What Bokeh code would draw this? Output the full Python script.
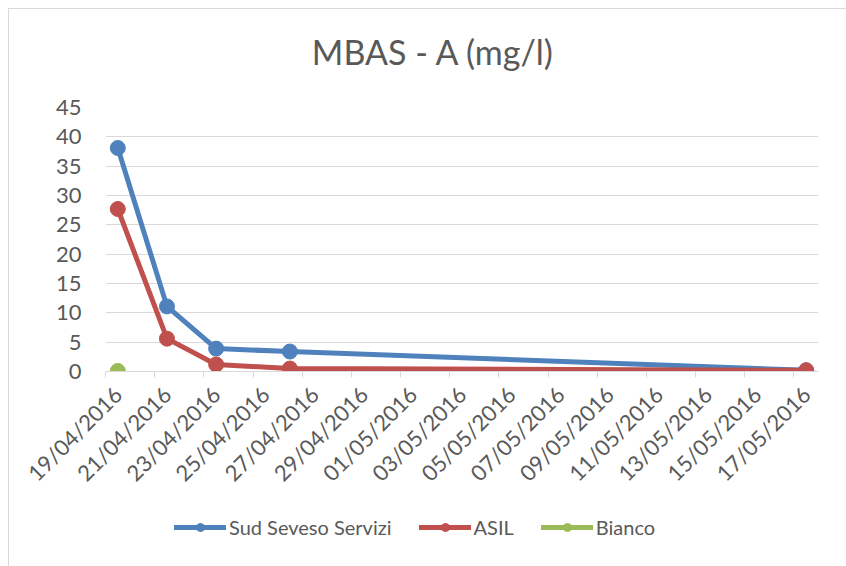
import pandas as pd
from math import pi
from bokeh.plotting import figure
from bokeh.layouts import column
from bokeh.models import (Range1d, FixedTicker, DatetimeTickFormatter, Legend,
                          LegendItem, Label)
from bokeh.embed import file_html
from bokeh.resources import INLINE

# ---- data ----
title_text = "MBAS - A (mg/l)"
axis_first_day = "2016-04-19"
axis_last_day = "2016-05-17"
tick_step_days = 2

sud_dates = ["2016-04-19", "2016-04-21", "2016-04-23", "2016-04-26", "2016-05-17"]
sud_values = [38.1, 11.1, 3.9, 3.4, 0.2]

asil_dates = ["2016-04-19", "2016-04-21", "2016-04-23", "2016-04-26", "2016-05-17"]
asil_values = [27.7, 5.6, 1.2, 0.5, 0.2]

bianco_dates = ["2016-04-19"]
bianco_values = [0.1]

y_ticks = [0, 5, 10, 15, 20, 25, 30, 35, 40, 45]

series_names = ["Sud Seveso Servizi", "ASIL", "Bianco"]
series_colors = ["#4f81bd", "#c0504d", "#9bbb59"]

# ---- styling ----
FONT = "Lato"
TEXT = "#595959"
GRID = "#d9d9d9"

HALF_DAY = pd.Timedelta(hours=12)
first = pd.Timestamp(axis_first_day)
last = pd.Timestamp(axis_last_day)

label_days = pd.date_range(first, last, freq=f"{tick_step_days}D")
to_ms = lambda ts: ts.value / 1e6
major = [to_ms(d) for d in label_days]
minor = [to_ms(d - HALF_DAY) for d in label_days]

series = [
    (series_names[0], series_colors[0], sud_dates, sud_values),
    (series_names[1], series_colors[1], asil_dates, asil_values),
    (series_names[2], series_colors[2], bianco_dates, bianco_values),
]


def strip(height):
    f = figure(width=837, height=height, output_backend="svg",
               toolbar_location=None, x_range=Range1d(0, 1),
               y_range=Range1d(0, 1), min_border=0)
    f.axis.visible = False
    f.grid.visible = False
    f.outline_line_color = None
    f.border_fill_color = "white"
    f.background_fill_color = "white"
    return f


# ---- title strip ----
tf = strip(80)
tf.add_layout(Label(x=328, y=38, x_units="screen", y_units="screen",
                    text=title_text, text_align="center",
                    text_baseline="middle", text_font=FONT,
                    text_font_size="34px", text_color=TEXT))

# ---- main chart ----
p = figure(width=837, height=410, x_axis_type="datetime",
           output_backend="svg", toolbar_location=None,
           x_range=Range1d(first - HALF_DAY, last + HALF_DAY),
           y_range=Range1d(0, 45),
           min_border_left=96, min_border_right=28,
           min_border_top=18, min_border_bottom=128)
p.outline_line_color = None
p.background_fill_color = "white"
p.border_fill_color = "white"

xa = p.xaxis[0]
xa.ticker = FixedTicker(ticks=major, minor_ticks=minor)
xa.formatter = DatetimeTickFormatter(days="%d/%m/%Y", months="%d/%m/%Y",
                                     hours="%d/%m/%Y", years="%d/%m/%Y")
xa.major_label_orientation = pi / 4
xa.major_tick_line_color = None
xa.major_tick_out = 6
xa.major_tick_in = 0
xa.minor_tick_line_color = GRID
xa.minor_tick_out = 6
xa.minor_tick_in = 0
xa.axis_line_color = GRID
xa.axis_line_width = 1
xa.major_label_text_font = FONT
xa.major_label_text_font_size = "22px"
xa.major_label_text_color = TEXT
xa.major_label_standoff = 13

ya = p.yaxis[0]
ya.ticker = FixedTicker(ticks=y_ticks)
ya.axis_line_color = None
ya.major_tick_line_color = None
ya.minor_tick_line_color = None
ya.major_label_text_font = FONT
ya.major_label_text_font_size = "22px"
ya.major_label_text_color = TEXT
ya.major_label_standoff = 18

p.xgrid.grid_line_color = None
p.ygrid.grid_line_color = GRID
p.ygrid.grid_line_width = 1

for name, color, dates, vals in series:
    xs = pd.to_datetime(dates)
    p.line(xs, vals, line_color=color, line_width=5,
           line_join="round", line_cap="round")
    p.scatter(xs, vals, marker="circle", size=15,
              fill_color=color, line_color=color)

# ---- legend strip: keys come from renderers whose data lies outside the
# strip's view, so only the legend itself is visible ----
lg = strip(67)
lg.y_range = Range1d(1000, 1001)
items = []
for name, color, dates, vals in series:
    xs = list(range(len(vals)))
    r_line = lg.line(xs, vals, line_color=color, line_width=5,
                     line_cap="round")
    r_pt = lg.scatter(xs, vals, marker="circle", size=12,
                      fill_color=color, line_color=color)
    items.append(LegendItem(label=name, renderers=[r_line, r_pt]))

legend = Legend(items=items, orientation="horizontal",
                location=(69, 27), padding=0, margin=0,
                glyph_width=52, glyph_height=20, label_standoff=3,
                spacing=27, border_line_color=None,
                background_fill_alpha=0,
                label_text_font=FONT, label_text_font_size="20px",
                label_text_color=TEXT, label_height=20)
lg.add_layout(legend, "center")

layout = column(tf, p, lg, spacing=0)
layout.styles = {"margin-left": "8px", "margin-top": "8px",
                 "border-left": "1px solid #d9d9d9",
                 "border-top": "1px solid #d9d9d9"}

open("out.html", "w").write(file_html(layout, INLINE))
